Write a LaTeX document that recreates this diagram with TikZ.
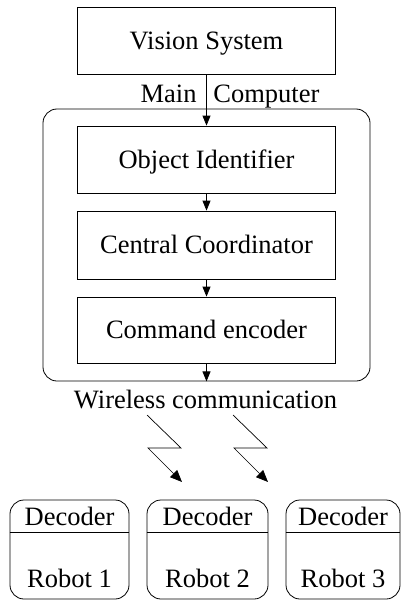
\documentclass[tikz,border=0pt]{standalone}
\usepackage{fontspec}
\setmainfont{Liberation Serif}
\usetikzlibrary{arrows.meta,calc}
\begin{document}
\begin{tikzpicture}[x=1pt,y=-1pt,
  line width=0.8pt,
  txt/.style={font=\fontsize{26.5}{30}\selectfont, inner sep=0pt},
  block/.style={draw, rectangle, minimum width=258pt, minimum height=67pt,
    txt, text height=20pt, text depth=3pt},
  robotbox/.style={draw, rounded corners=14pt, minimum height=99pt, inner sep=0pt},
  arr/.style={-{Triangle[length=10pt,width=8pt]}},
  bolt/.style={line width=0.7pt, -{Triangle[length=12pt,width=10pt]}}]
\useasboundingbox (0,0) rectangle (402,602);

% main computer frame
\node[draw, rounded corners=14pt, minimum width=327pt, minimum height=272pt, inner sep=0pt]
  (outer) at (206.5,245) {};

% processing blocks
\node[block] (vision)  at (206.5,40.5)  {Vision System};
\node[block] (object)  at (206.5,159.5) {Object Identifier};
\node[block, minimum height=68pt] (central) at (206.5,245) {Central Coordinator};
\node[block, minimum height=66pt] (command) at (206.5,330) {Command encoder};

\node[txt, anchor=base east] (lmain) at (197,102) {Main};
\node[txt, anchor=base west] (lcomp) at (213,102) {Computer};

\draw[arr] (vision.south) -- (object.north);
\draw[arr] (object.south) -- (central.north);
\draw[arr] (central.south) -- (command.north);
\draw[arr] (command.south) -- (outer.south);

\node[txt, anchor=base] (wireless) at (205.5,408) {Wireless communication};

% radio links
\coordinate (b1s) at (147,415);
\coordinate (b1e) at (182,482);
\coordinate (b2s) at (233,415);
\coordinate (b2e) at (268,482);
\draw[bolt] (b1s) -- (181,448) -- (148,448) -- (b1e);
\draw[bolt] (b2s) -- (267,448) -- (234,448) -- (b2e);

% robots
\node[robotbox, minimum width=119pt] (r1) at (69.5,549.5) {};
\node[robotbox, minimum width=121pt] (r2) at (207.5,549.5) {};
\node[robotbox, minimum width=114pt] (r3) at (343,549.5) {};
\foreach \r/\n in {r1/1, r2/2, r3/3}{
  \draw ($(\r.north west)+(0,33)$) -- ($(\r.north east)+(0,33)$);
  \node[txt, anchor=base] (\r dec) at ($(\r.north)+(0,26)$) {Decoder};
  \node[txt, anchor=base] (\r name) at ($(\r.north)+(0,88)$) {Robot \n};
}
\end{tikzpicture}
\end{document}
